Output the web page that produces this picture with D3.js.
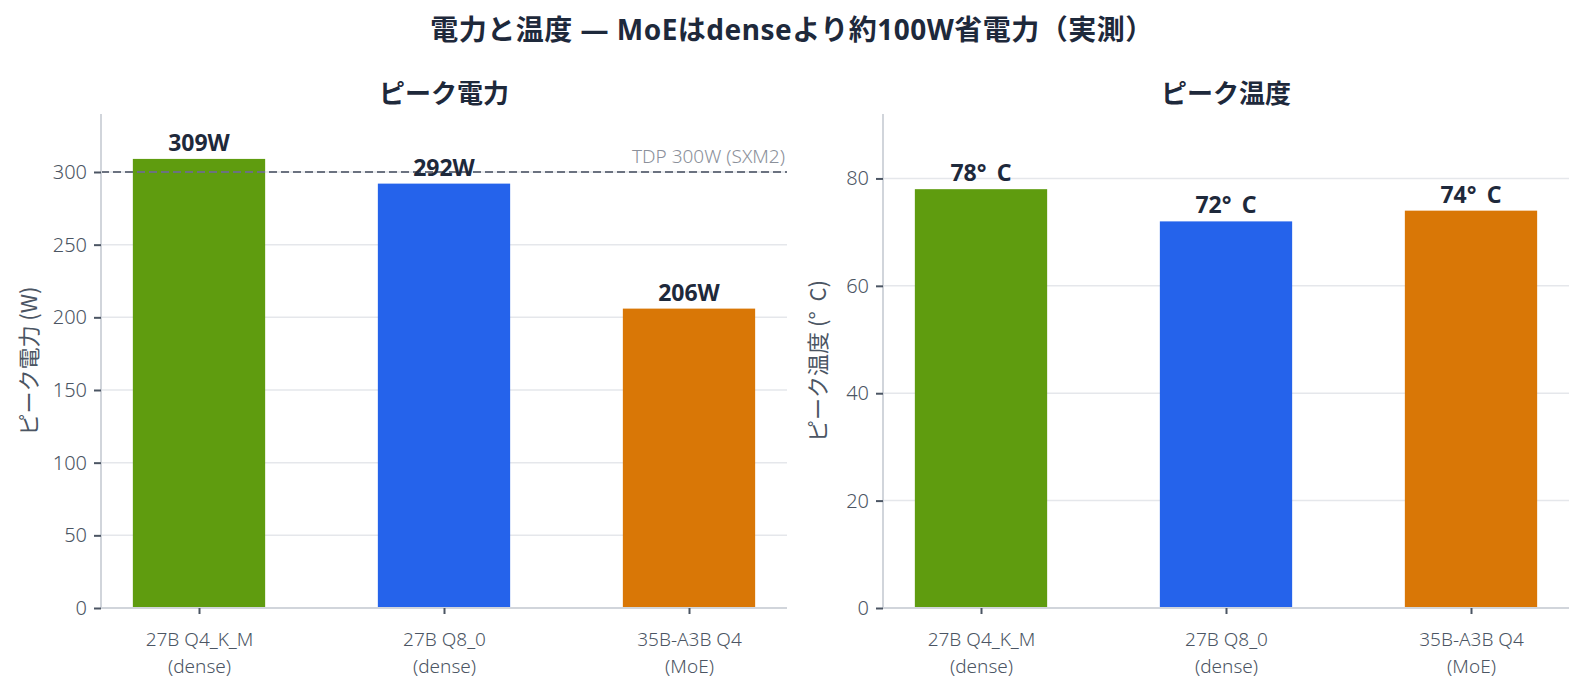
<!DOCTYPE html>
<html>
<head>
<meta charset="utf-8">
<script src="https://cdn.jsdelivr.net/npm/d3@7"></script>
<style>
  html, body { margin: 0; padding: 0; overflow: hidden; background: #fff; }
  svg { display: block; font-family: "Noto Sans", "Noto Sans CJK JP", sans-serif; }
</style>
</head>
<body>
<svg id="chart" width="1584" height="697"></svg>
<script>
// data
const models = ['27B Q4_K_M', '27B Q8_0', '35B-A3B Q4'];
const modelKinds = ['(dense)', '(dense)', '(MoE)'];
const peakPower = [309, 292, 206];
const peakTemp = [78, 72, 74];
const powerTicks = [0, 50, 100, 150, 200, 250, 300];
const tempTicks = [0, 20, 40, 60, 80];
const tdpWatts = 300;
const barColors = ['#5f9c0f', '#2563eb', '#d97706'];

const ink = '#1e293b';
const muted = '#4b5563';

const svg = d3.select('#chart');

svg.append('text')
  .attr('x', 792).attr('y', 40)
  .attr('text-anchor', 'middle')
  .attr('font-size', 28).attr('font-weight', 700)
  .attr('letter-spacing', 0.5)
  .attr('fill', ink)
  .text('電力と温度 — MoEはdenseより約100W省電力（実測）');

// writes "78°C" with the wide gap the reference shows after the degree sign
function degreeText(sel, before, after) {
  sel.append('tspan').text(before + '°');
  sel.append('tspan').attr('dx', '0.45em').text('C' + after);
}

function panel(opts) {
  const left = opts.left, top = 114, width = 686, height = 494;
  const g = svg.append('g').attr('transform', 'translate(' + left + ',' + top + ')');

  const x = d3.scaleLinear().domain([-0.4, 2.4]).range([0, width]);
  const y = d3.scaleLinear().domain([0, opts.yMax]).range([height, 0]);
  const bw = x(0.54) - x(0);

  // grid
  g.append('g').selectAll('line')
    .data(opts.ticks)
    .enter().append('line')
    .attr('x1', 0).attr('x2', width)
    .attr('y1', function(d) { return y(d); })
    .attr('y2', function(d) { return y(d); })
    .attr('stroke', '#e5e7eb').attr('stroke-width', 1.5);

  g.selectAll('.bar')
    .data(opts.values)
    .enter().append('rect')
    .attr('class', 'bar')
    .attr('x', function(d, i) { return x(i) - bw / 2; })
    .attr('width', bw)
    .attr('y', function(d) { return y(d); })
    .attr('height', function(d) { return height - y(d); })
    .attr('fill', function(d, i) { return barColors[i]; });

  if (opts.tdp) {
    g.append('line')
      .attr('x1', 0).attr('x2', width)
      .attr('y1', y(opts.tdp)).attr('y2', y(opts.tdp))
      .attr('stroke', '#6b7280').attr('stroke-width', 2)
      .attr('stroke-dasharray', '8,4');
    g.append('text')
      .attr('x', width - 2).attr('y', y(opts.tdp) - 9)
      .attr('text-anchor', 'end')
      .attr('font-size', 19).attr('fill', '#8b909a').attr('font-weight', 300)
      .text('TDP ' + opts.tdp + 'W (SXM2)');
  }

  g.selectAll('.val')
    .data(opts.values)
    .enter().append('text')
    .attr('class', 'val')
    .attr('x', function(d, i) { return x(i); })
    .attr('y', function(d) { return y(d) - 8; })
    .attr('text-anchor', 'middle')
    .attr('font-size', 23).attr('font-weight', 700)
    .attr('fill', ink)
    .each(function(d) {
      if (opts.degree) degreeText(d3.select(this), String(d), '');
      else d3.select(this).text(d + opts.unit);
    });

  const yAxis = d3.axisLeft(y).tickValues(opts.ticks).tickSize(7).tickPadding(7);
  const ya = g.append('g').call(yAxis);
  ya.select('.domain').attr('stroke', '#d1d5db').attr('stroke-width', 2)
    .attr('d', 'M0,0V' + height);
  ya.selectAll('.tick line').attr('stroke', muted).attr('stroke-width', 2);
  ya.selectAll('.tick text')
    .attr('font-size', 20).attr('fill', muted)
    .attr('font-family', '"Noto Sans", sans-serif').attr('font-weight', 300);

  const xAxis = d3.axisBottom(x).tickValues([0, 1, 2]).tickSize(6).tickFormat('');
  const xa = g.append('g').attr('transform', 'translate(0,' + height + ')').call(xAxis);
  xa.select('.domain').attr('stroke', '#d1d5db').attr('stroke-width', 2)
    .attr('d', 'M0,0H' + width);
  xa.selectAll('.tick line').attr('stroke', muted).attr('stroke-width', 2);
  xa.selectAll('.tick').each(function(d) {
    const t = d3.select(this).append('text')
      .attr('text-anchor', 'middle')
      .attr('font-size', 19).attr('fill', muted).attr('font-weight', 300)
      .attr('font-family', '"Noto Sans", sans-serif');
    t.append('tspan').attr('x', 0).attr('y', 38).text(models[d]);
    t.append('tspan').attr('x', 0).attr('y', 65).text(modelKinds[d]);
  });

  g.append('text')
    .attr('x', width / 2).attr('y', -11)
    .attr('text-anchor', 'middle')
    .attr('font-size', 26).attr('font-weight', 700)
    .attr('fill', ink)
    .text(opts.title);

  const yl = g.append('text')
    .attr('transform', 'translate(' + opts.labelX + ',' + (height / 2) + ') rotate(-90)')
    .attr('text-anchor', 'middle')
    .attr('font-size', 22).attr('fill', muted)
    .attr('font-family', '"Noto Sans CJK JP", sans-serif').attr('font-weight', 400);
  if (opts.degree) degreeText(yl, opts.yLabel + ' (', ')');
  else yl.text(opts.yLabel + ' (' + opts.unit + ')');
}

panel({
  left: 101, title: 'ピーク電力', yLabel: 'ピーク電力', labelX: -64,
  values: peakPower, ticks: powerTicks, yMax: d3.max(peakPower) * 1.1,
  unit: 'W', tdp: tdpWatts
});

panel({
  left: 883, title: 'ピーク温度', yLabel: 'ピーク温度', labelX: -57,
  values: peakTemp, ticks: tempTicks, yMax: 92,
  unit: '°C', degree: true
});
</script>
</body>
</html>
